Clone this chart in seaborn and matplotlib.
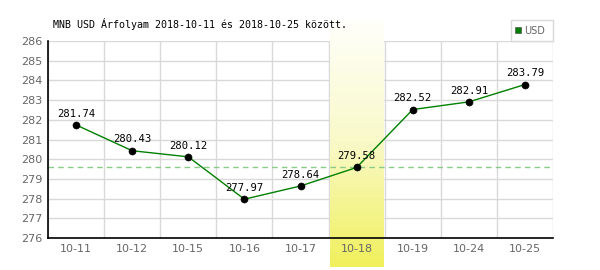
import numpy as np
import pandas as pd
import matplotlib
matplotlib.use("Agg")
import matplotlib.pyplot as plt
import seaborn as sns
from matplotlib.colors import LinearSegmentedColormap
from matplotlib.patches import Rectangle

dates = ["10-11", "10-12", "10-15", "10-16", "10-17", "10-18", "10-19", "10-24", "10-25"]
rates = [281.74, 280.43, 280.12, 277.97, 278.64, 279.58, 282.52, 282.91, 283.79]
highlight = "10-18"
reference_rate = 279.58
title = "MNB USD Árfolyam 2018-10-11 és 2018-10-25 között."
series_name = "USD"

sns.set_theme(style="white")
plt.rcParams['font.family'] = ['DejaVu Sans', 'Noto Sans']

df = pd.DataFrame({"date": dates, "rate": rates, "x": np.arange(len(dates))})

fig = plt.figure(figsize=(6, 2.7), dpi=100)
ax = fig.add_axes([48/600, 1-238/270, (553-48)/600, (238-41)/270])

# grid
for v in range(276, 287):
    ax.axhline(v, color="#d9d9d9", lw=1, zorder=0)
for b in np.arange(-0.5, len(dates) + 0.5, 1):
    ax.axvline(b, color="#d9d9d9", lw=1, zorder=0)

# highlight band (gradient)
hi = dates.index(highlight)
cmap = LinearSegmentedColormap.from_list("hl", ["#fffffc", "#f9f9c8", "#f0f05c"])
grad = np.linspace(0, 1, 256).reshape(-1, 1)
ax.imshow(grad, extent=(hi - 0.48, hi + 0.48, 274.55, 287.1), origin="upper",
          aspect="auto", cmap=cmap, clip_on=False, zorder=0.5)

ax.axhline(reference_rate, color="#88cc88", lw=1, ls=(0, (4, 3)), zorder=1)

sns.lineplot(data=df, x="x", y="rate", color="#008000", lw=1, ax=ax, zorder=2)
sns.scatterplot(data=df, x="x", y="rate", color="black", s=26, edgecolor="black",
                ax=ax, zorder=3)

for xi, r in zip(df["x"], rates):
    ax.annotate(f"{r:.2f}", (xi, r), xytext=(0, 4.5), textcoords="offset points",
                ha="center", va="bottom", fontsize=7.6, family="DejaVu Sans Mono",
                color="black", zorder=4)

ax.set_xlim(-0.5, len(dates) - 0.5)
ax.set_ylim(276, 286)
ax.set_yticks(range(276, 287))
ax.set_xticks(df["x"])
ax.set_xticklabels(dates)
ax.tick_params(axis="both", colors="#666666", labelsize=8, length=0, pad=4)
ax.set_xlabel("")
ax.set_ylabel("")
for s in ["top", "right"]:
    ax.spines[s].set_visible(False)
for s in ["left", "bottom"]:
    ax.spines[s].set_color("black")
    ax.spines[s].set_linewidth(1.2)

fig.text(53/600, 1-24/270, title, fontsize=7.2, family="DejaVu Sans Mono",
         ha="left", va="center", color="black")

# legend box
fig.add_artist(Rectangle((511/600, 1-41/270), 42/600, 21/270, transform=fig.transFigure,
                         facecolor="white", edgecolor="#d9d9d9", lw=1))
fig.add_artist(Rectangle((515/600, 1-33/270), 6/600, 6/270, transform=fig.transFigure,
                         facecolor="#008000", edgecolor="#555555", lw=0.5))
fig.text(524/600, 1-30.5/270, series_name, fontsize=7, color="#666666",
         ha="left", va="center")

fig.savefig("out.png", dpi=100, facecolor="white")
